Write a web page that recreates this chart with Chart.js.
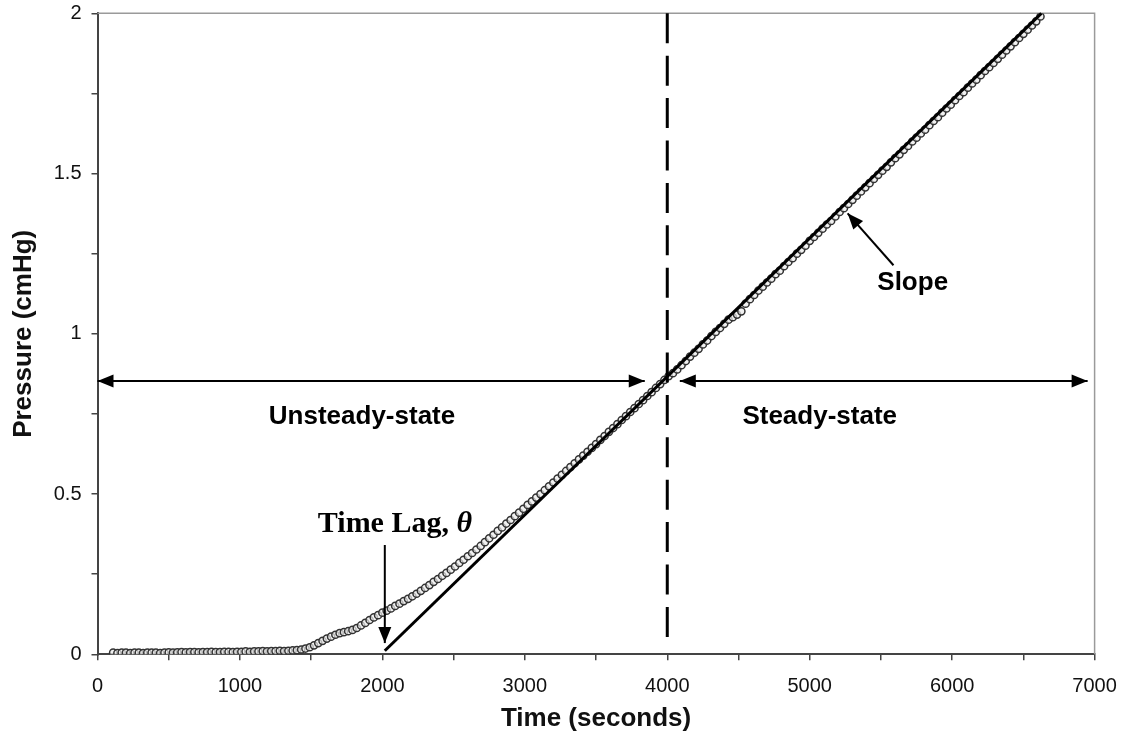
<!DOCTYPE html>
<html>
<head>
<meta charset="utf-8">
<script src="https://cdn.jsdelivr.net/npm/chart.js@4.4.1/dist/chart.umd.min.js"></script>
<style>
    html, body { margin: 0; padding: 0; background: #ffffff; }
    #grafico { display: block; }
</style>
</head>
<body>
<canvas id="grafico" width="1126" height="744"></canvas>
<script>

const times = [
    110, 140, 170, 200, 230, 260, 290, 320, 350, 380,
    410, 440, 470, 500, 530, 560, 590, 620, 650, 680,
    710, 740, 770, 800, 830, 860, 890, 920, 950, 980,
    1010, 1040, 1070, 1100, 1130, 1160, 1190, 1220, 1250, 1280,
    1310, 1340, 1370, 1400,
    1430, 1460, 1490, 1520, 1550, 1580, 1610, 1640, 1670, 1700,
    1730, 1760, 1790, 1820, 1850, 1880, 1910, 1940, 1970, 2000,
    2030, 2060, 2090, 2120, 2150, 2180, 2210, 2240, 2270, 2300,
    2330, 2360, 2390, 2420, 2450, 2480, 2510, 2540, 2570, 2600,
    2630, 2660, 2690, 2720, 2750, 2780, 2810, 2840, 2870, 2900,
    2930, 2960, 2990, 3020, 3050, 3080, 3110, 3140, 3170, 3200,
    3230, 3260, 3290, 3320, 3350, 3380, 3410, 3440, 3470, 3500,
    3530, 3560, 3590, 3620, 3650, 3680, 3710, 3740, 3770, 3800,
    3830, 3860, 3890, 3920, 3950, 3980, 4010, 4040, 4070, 4100,
    4130, 4160, 4190, 4220, 4250, 4280, 4310, 4340, 4370, 4400,
    4430, 4460, 4490, 4520, 4550, 4580, 4610, 4640, 4670, 4700,
    4730, 4760, 4790, 4820, 4850, 4880, 4910, 4940, 4970, 5000,
    5030, 5060, 5090, 5120, 5150, 5180, 5210, 5240, 5270, 5300,
    5330, 5360, 5390, 5420, 5450, 5480, 5510, 5540, 5570, 5600,
    5630, 5660, 5690, 5720, 5750, 5780, 5810, 5840, 5870, 5900,
    5930, 5960, 5990, 6020, 6050, 6080, 6110, 6140, 6170, 6200,
    6230, 6260, 6290, 6320, 6350, 6380, 6410, 6440, 6470, 6500,
    6530, 6560, 6590, 6620
];

const pressures = [
    0.005, 0.004, 0.005, 0.005, 0.004, 0.005, 0.005, 0.004, 0.005, 0.005,
    0.005, 0.004, 0.005, 0.006, 0.005, 0.006, 0.007, 0.006, 0.007, 0.007,
    0.006, 0.007, 0.007, 0.008, 0.007, 0.007, 0.008, 0.008, 0.007, 0.008,
    0.008, 0.009, 0.008, 0.009, 0.009, 0.010, 0.009, 0.010, 0.010, 0.011,
    0.010, 0.011, 0.012, 0.013,
    0.015, 0.018, 0.022, 0.028, 0.035, 0.042, 0.049, 0.055, 0.061, 0.066,
    0.069, 0.072, 0.076, 0.082, 0.090, 0.098, 0.107, 0.115, 0.122, 0.130,
    0.136, 0.143, 0.151, 0.158, 0.166, 0.173, 0.181, 0.189, 0.198, 0.207,
    0.216, 0.226, 0.235, 0.245, 0.254, 0.264, 0.274, 0.285, 0.295, 0.306,
    0.316, 0.327, 0.338, 0.350, 0.362, 0.373, 0.385, 0.396, 0.408, 0.419,
    0.431, 0.442, 0.454, 0.466, 0.477, 0.489, 0.500, 0.512, 0.524, 0.536,
    0.548, 0.560, 0.572, 0.584, 0.596, 0.608, 0.620, 0.632, 0.644, 0.656,
    0.669, 0.681, 0.694, 0.706, 0.718, 0.731, 0.743, 0.756, 0.768, 0.781,
    0.793, 0.806, 0.818, 0.831, 0.843, 0.856, 0.868, 0.877, 0.889, 0.902,
    0.915, 0.929, 0.941, 0.953, 0.967, 0.979, 0.993, 1.006, 1.018, 1.031,
    1.044, 1.052, 1.060, 1.070, 1.094, 1.108, 1.121, 1.135, 1.147, 1.160,
    1.172, 1.186, 1.197, 1.211, 1.224, 1.236, 1.250, 1.262, 1.275, 1.290,
    1.302, 1.315, 1.328, 1.341, 1.352, 1.366, 1.380, 1.392, 1.405, 1.418,
    1.431, 1.444, 1.457, 1.470, 1.483, 1.496, 1.509, 1.521, 1.535, 1.548,
    1.560, 1.574, 1.586, 1.600, 1.612, 1.625, 1.637, 1.651, 1.664, 1.676,
    1.690, 1.703, 1.715, 1.729, 1.742, 1.754, 1.768, 1.781, 1.793, 1.807,
    1.820, 1.832, 1.845, 1.858, 1.871, 1.884, 1.897, 1.910, 1.923, 1.936,
    1.949, 1.962, 1.975, 1.990
];

// steady-state fit line and the boundary between the two regimes
const fitTimes = [2017, 6626];
const fitPressures = [0.011, 2.0];

const boundaryTimes = [4000, 4000];
const boundaryPressures = [2.0, 0.053];

// annotation anchors (data units)
const regimeArrowY = 0.853;
const unsteadyArrow = [0, 3842];
const steadyArrow = [4088, 6951];
const unsteadyLabel = { x: 1857, y: 0.74, text: 'Unsteady-state' };
const steadyLabel = { x: 5070, y: 0.74, text: 'Steady-state' };
const slopeLabel = { x: 5723, y: 1.16, text: 'Slope' };
const slopeArrow = { x1: 5588, y1: 1.214, x2: 5266, y2: 1.376 };
const lagLabel = { x: 2088, y: 0.405, text: 'Time Lag, ', symbol: 'θ' };
const lagArrow = { x: 2017, y1: 0.341, y2: 0.035 };

const xTicksMajor = [0, 1000, 2000, 3000, 4000, 5000, 6000, 7000];
const yTicksMajor = [0, 0.5, 1, 1.5, 2];

const sans = '"Liberation Sans", Arial, sans-serif';
const serif = '"Liberation Serif", "Times New Roman", serif';

function toPoints(xs, ys) {

    return xs.map((x, i) => ({ x: x, y: ys[i] }));

}

function drawHead(ctx, x1, y1, x2, y2, len, half) {

    const ang = Math.atan2(y2 - y1, x2 - x1);

    ctx.beginPath();
    ctx.moveTo(x2, y2);
    ctx.lineTo(x2 - len * Math.cos(ang) + half * Math.sin(ang), y2 - len * Math.sin(ang) - half * Math.cos(ang));
    ctx.lineTo(x2 - len * Math.cos(ang) - half * Math.sin(ang), y2 - len * Math.sin(ang) + half * Math.cos(ang));
    ctx.closePath();
    ctx.fill();

}

function drawArrow(ctx, x1, y1, x2, y2, both) {

    ctx.beginPath();
    ctx.moveTo(x1, y1);
    ctx.lineTo(x2, y2);
    ctx.stroke();

    drawHead(ctx, x1, y1, x2, y2, 16, 6.5);

    if (both) {
        drawHead(ctx, x2, y2, x1, y1, 16, 6.5);
    }

}

const framePlugin = {

    id: 'frame',

    beforeDatasetsDraw(chart) {

        const { ctx, chartArea } = chart;

        ctx.save();
        ctx.strokeStyle = '#9a9a9a';
        ctx.lineWidth = 1.5;
        ctx.beginPath();
        ctx.moveTo(chartArea.left, chartArea.top);
        ctx.lineTo(chartArea.right, chartArea.top);
        ctx.lineTo(chartArea.right, chartArea.bottom);
        ctx.stroke();
        ctx.restore();

    }

};

const notesPlugin = {

    id: 'notes',

    afterDatasetsDraw(chart) {

        const { ctx } = chart;
        const sx = chart.scales.x;
        const sy = chart.scales.y;

        ctx.save();
        ctx.strokeStyle = '#000';
        ctx.fillStyle = '#000';
        ctx.lineWidth = 2;

        const ay = sy.getPixelForValue(regimeArrowY);

        drawArrow(ctx, sx.getPixelForValue(unsteadyArrow[0]), ay, sx.getPixelForValue(unsteadyArrow[1]), ay, true);
        drawArrow(ctx, sx.getPixelForValue(steadyArrow[0]), ay, sx.getPixelForValue(steadyArrow[1]), ay, true);

        drawArrow(ctx,
            sx.getPixelForValue(slopeArrow.x1), sy.getPixelForValue(slopeArrow.y1),
            sx.getPixelForValue(slopeArrow.x2), sy.getPixelForValue(slopeArrow.y2), false);

        drawArrow(ctx,
            sx.getPixelForValue(lagArrow.x), sy.getPixelForValue(lagArrow.y1),
            sx.getPixelForValue(lagArrow.x), sy.getPixelForValue(lagArrow.y2), false);

        ctx.textAlign = 'center';
        ctx.textBaseline = 'middle';
        ctx.font = 'bold 26px ' + sans;

        [unsteadyLabel, steadyLabel, slopeLabel].forEach(function (l) {
            ctx.fillText(l.text, sx.getPixelForValue(l.x), sy.getPixelForValue(l.y));
        });

        // Time Lag, theta (serif, theta italic)
        ctx.font = 'bold 30px ' + serif;
        const w1 = ctx.measureText(lagLabel.text).width;
        ctx.font = 'italic bold 30px ' + serif;
        const w2 = ctx.measureText(lagLabel.symbol).width;

        const lx = sx.getPixelForValue(lagLabel.x) - (w1 + w2) / 2;
        const ly = sy.getPixelForValue(lagLabel.y);

        ctx.textAlign = 'left';
        ctx.font = 'bold 30px ' + serif;
        ctx.fillText(lagLabel.text, lx, ly);
        ctx.font = 'italic bold 30px ' + serif;
        ctx.fillText(lagLabel.symbol, lx + w1, ly);

        ctx.restore();

    }

};

const ctx = document.getElementById('grafico').getContext('2d');

const grafico = new Chart(ctx, {

    type: 'scatter',

    data: {
        datasets: [
            {
                label: 'Pressure',
                data: toPoints(times, pressures),
                pointStyle: 'circle',
                pointRadius: 3.6,
                pointBorderWidth: 1.5,
                borderColor: '#333333',
                backgroundColor: 'rgba(235,235,235,0.7)',
                order: 3
            },
            {
                label: 'Steady-state fit',
                data: toPoints(fitTimes, fitPressures),
                showLine: true,
                borderColor: '#000',
                borderWidth: 3,
                pointRadius: 0,
                clip: false,
                order: 1
            },
            {
                label: 'Boundary',
                data: toPoints(boundaryTimes, boundaryPressures),
                showLine: true,
                borderColor: '#000',
                borderWidth: 3,
                borderDash: [30, 12.4],
                pointRadius: 0,
                clip: false,
                order: 2
            }
        ]
    },

    options: {

        responsive: false,
        animation: false,
        events: [],

        layout: {
            padding: { top: 13.3, right: 31.4, bottom: 0, left: 0 }
        },

        plugins: {
            legend: { display: false },
            tooltip: { enabled: false }
        },

        scales: {

            x: {
                type: 'linear',
                min: 0,
                max: 7000,
                afterFit: function (scale) {
                    scale.height = 89.7;
                    scale.paddingLeft = 0;
                    scale.paddingRight = 0;
                },
                ticks: {
                    stepSize: 500,
                    autoSkip: false,
                    maxRotation: 0,
                    padding: 14,
                    color: '#111',
                    font: { family: sans, size: 20 },
                    callback: function (v) {
                        return xTicksMajor.includes(v) ? String(v) : '';
                    }
                },
                grid: {
                    drawOnChartArea: false,
                    drawTicks: true,
                    tickLength: 6,
                    tickColor: '#444',
                    lineWidth: 1.5
                },
                border: { display: true, color: '#444', width: 2 },
                title: {
                    display: true,
                    text: 'Time (seconds)',
                    color: '#111',
                    font: { family: sans, size: 26, weight: 'bold' },
                    padding: { top: 0, bottom: 10 }
                }
            },

            y: {
                type: 'linear',
                min: 0,
                max: 2,
                afterFit: function (scale) {
                    scale.width = 97.5;
                    scale.paddingTop = 0;
                    scale.paddingBottom = 0;
                },
                ticks: {
                    stepSize: 0.25,
                    autoSkip: false,
                    padding: 10,
                    color: '#111',
                    font: { family: sans, size: 20 },
                    callback: function (v) {
                        return yTicksMajor.includes(v) ? String(v) : '';
                    }
                },
                grid: {
                    drawOnChartArea: false,
                    drawTicks: true,
                    tickLength: 6,
                    tickColor: '#444',
                    lineWidth: 1.5
                },
                border: { display: true, color: '#444', width: 2 },
                title: {
                    display: true,
                    text: 'Pressure (cmHg)',
                    color: '#111',
                    font: { family: sans, size: 26, weight: 'bold' },
                    padding: { top: 8, bottom: 0 }
                }
            }

        }

    },

    plugins: [framePlugin, notesPlugin]

});

</script>
</body>
</html>
